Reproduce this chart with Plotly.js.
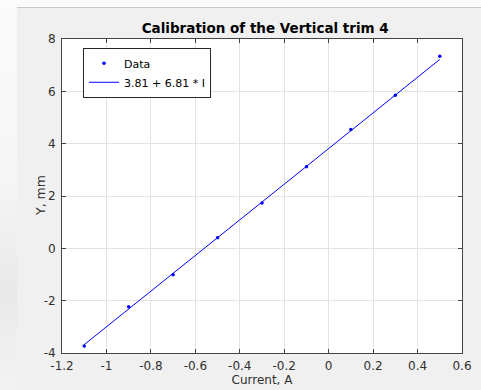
<!DOCTYPE html>
<html>
<head>
<meta charset="utf-8">
<script src="https://cdn.plot.ly/plotly-3.0.1.min.js"></script>
<style>
html,body{margin:0;padding:0;width:481px;height:390px;overflow:hidden;
 background:linear-gradient(180deg,#fbfbfb 0%,#f6f6f6 45%,#e9e9e9 75%,#f3f3f3 100%);}
#topline{position:absolute;left:17px;top:7px;width:464px;height:1px;background:#c8c8c8;}
#chart{position:absolute;left:17px;top:8px;width:464px;height:382px;}
</style>
</head>
<body>
<div id="topline"></div>
<div id="chart"></div>
<script>
// Data
const currentA = [-1.1, -0.9, -0.7, -0.5, -0.3, -0.1, 0.1, 0.3, 0.5];
const yMm = [-3.73, -2.23, -1.01, 0.40, 1.73, 3.12, 4.54, 5.85, 7.34];
// Fitted line end points (3.81 + 6.81 * I)
const fitX = [-1.1, 0.5];
const fitY = [-3.68, 7.22];
const xTicks = [-1.2, -1, -0.8, -0.6, -0.4, -0.2, 0, 0.2, 0.4, 0.6];
const yTicks = [-4, -2, 0, 2, 4, 6, 8];

const font = 'DejaVu Sans, sans-serif';
const traces = [
  {x: currentA, y: yMm, mode: 'markers', name: 'Data', type: 'scatter',
   marker: {color: '#0000ff', size: 3.5}},
  {x: fitX, y: fitY, mode: 'lines', name: '3.81 + 6.81 * I', type: 'scatter',
   line: {color: '#0000ff', width: 1}}
];
const axisCommon = {
  showline: true, linecolor: '#444444', linewidth: 1, mirror: 'ticks',
  ticks: 'inside', ticklen: 4, tickcolor: '#444444',
  showgrid: true, gridcolor: '#e3e3e3', gridwidth: 1, zeroline: false,
  tickfont: {family: font, size: 12, color: '#303030'}
};
const layout = {
  width: 464, height: 382,
  paper_bgcolor: '#f0f0f0', plot_bgcolor: '#ffffff',
  margin: {l: 45, r: 19, t: 31, b: 37},
  title: {text: 'Calibration of the Vertical trim 4', x: 0.535, xanchor: 'center', y: 0.948, yanchor: 'middle',
          font: {family: font, size: 13.5, color: '#000000', weight: 'bold'}},
  xaxis: Object.assign({}, axisCommon, {range: [-1.2, 0.6], tickvals: xTicks,
    ticktext: xTicks.map(String), ticklabelstandoff: 2,
    title: {text: 'Current, A', standoff: 1, font: {family: font, size: 12, color: '#303030'}}}),
  yaxis: Object.assign({}, axisCommon, {range: [-4, 8], tickvals: yTicks,
    ticktext: yTicks.map(String), ticklabelstandoff: 3}),
  annotations: [{text: 'Y, mm', xref: 'paper', yref: 'paper', x: -0.055, y: 0.5,
    xanchor: 'center', yanchor: 'middle', textangle: -90, showarrow: false,
    font: {family: font, size: 12.5, color: '#303030'}}],
  showlegend: true,
  legend: {x: 0.0525, y: 0.972, xanchor: 'left', yanchor: 'top',
    bgcolor: '#ffffff', bordercolor: '#262626', borderwidth: 1,
    font: {family: font, size: 11, color: '#000000'},
    tracegroupgap: 0, itemwidth: 30}
};
Plotly.newPlot('chart', traces, layout, {displayModeBar: false, staticPlot: true});
</script>
</body>
</html>
